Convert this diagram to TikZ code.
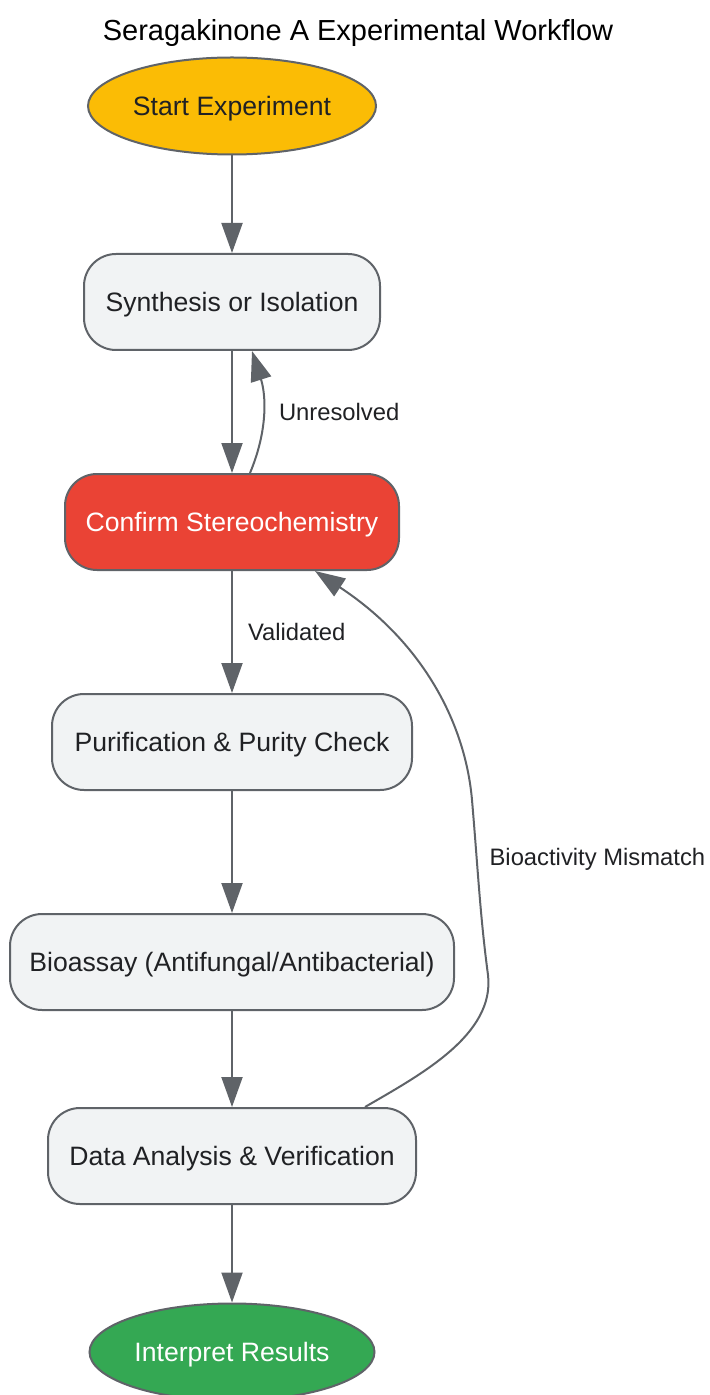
\documentclass[tikz,border=0pt]{standalone}
\usepackage{fontspec}
\setmainfont{Liberation Sans}
\usetikzlibrary{shapes.geometric,arrows.meta}
\definecolor{edgegray}{HTML}{5F6368}
\definecolor{boxfill}{HTML}{F1F3F4}
\definecolor{textdark}{HTML}{202124}
\definecolor{startyellow}{HTML}{FBBC05}
\definecolor{confirmred}{HTML}{EA4335}
\definecolor{endgreen}{HTML}{34A853}

\begin{document}
\begin{tikzpicture}[x=0.5pt,y=-0.5pt,%
% common options for the steps:
stepbox/.style = {draw=edgegray, line width=1pt, rounded corners=16pt, fill=boxfill,
            text=textdark, minimum height=48pt, inner sep=0,
            text height=9.5pt, text depth=0pt,
            font=\fontsize{13.3}{16}\selectfont},
% common options for the ovals:
oval/.style = {ellipse, draw=edgegray, line width=1pt, minimum width=144pt,
            minimum height=48.5pt, inner sep=0, text=textdark,
            text height=9.5pt, text depth=0pt,
            font=\fontsize{13.3}{16}\selectfont},
% arrows and their labels:
flow/.style = {draw=edgegray, line width=1pt, -{Triangle[length=15pt,width=10.5pt]}},
lbl/.style = {font=\fontsize{11.9}{14}\selectfont, text=textdark, inner sep=0,
            text height=8.5pt, text depth=0pt}]
\useasboundingbox (0,0) rectangle (709,1395);
\node[font=\fontsize{14.5}{17}\selectfont, text height=10.4pt, text depth=0pt, inner sep=0] (title) at (358,30) {Seragakinone A Experimental Workflow};
\node[oval, fill=startyellow] (start) at (232,106) {Start Experiment};
\node[stepbox, minimum width=148pt] (synth) at (232,302) {Synthesis or Isolation};
\node[stepbox, minimum width=167pt, fill=confirmred, text=white] (confirm) at (232,522) {Confirm Stereochemistry};
\node[stepbox, minimum width=180pt] (purif) at (232,742) {Purification \& Purity Check};
\node[stepbox, minimum width=222pt] (assay) at (232,962) {Bioassay (Antifungal/Antibacterial)};
\node[stepbox, minimum width=184pt] (data) at (232,1156) {Data Analysis \& Verification};
\node[oval, fill=endgreen, text=white, minimum width=142.5pt] (interp) at (232,1352) {Interpret Results};
\draw[flow] (start) -- (synth);
\draw[flow] (synth) -- (confirm);
\draw[flow] ([xshift=9pt]confirm.north) .. controls (268,430) and (266,395) .. ([xshift=10pt]synth.south)
    node[lbl, pos=0.5, anchor=west, xshift=7.5pt] {Unresolved};
\draw[flow] (confirm) -- (purif) node[lbl, midway, anchor=west, xshift=7.5pt] {Validated};
\draw[flow] (purif) -- (assay);
\draw[flow] (assay) -- (data);
\draw[flow] (data) -- (interp);
\draw[flow] ([xshift=66.5pt]data.north) .. controls (420,1075) and (495,1035) .. (488,975)
    .. controls (480,915) and (478,870) .. (472,800) node[lbl, pos=0.7, anchor=west, xshift=6pt] {Bioactivity Mismatch}
    .. controls (465,720) and (420,640) .. ([xshift=41.5pt]confirm.south);
\end{tikzpicture}
\end{document}
